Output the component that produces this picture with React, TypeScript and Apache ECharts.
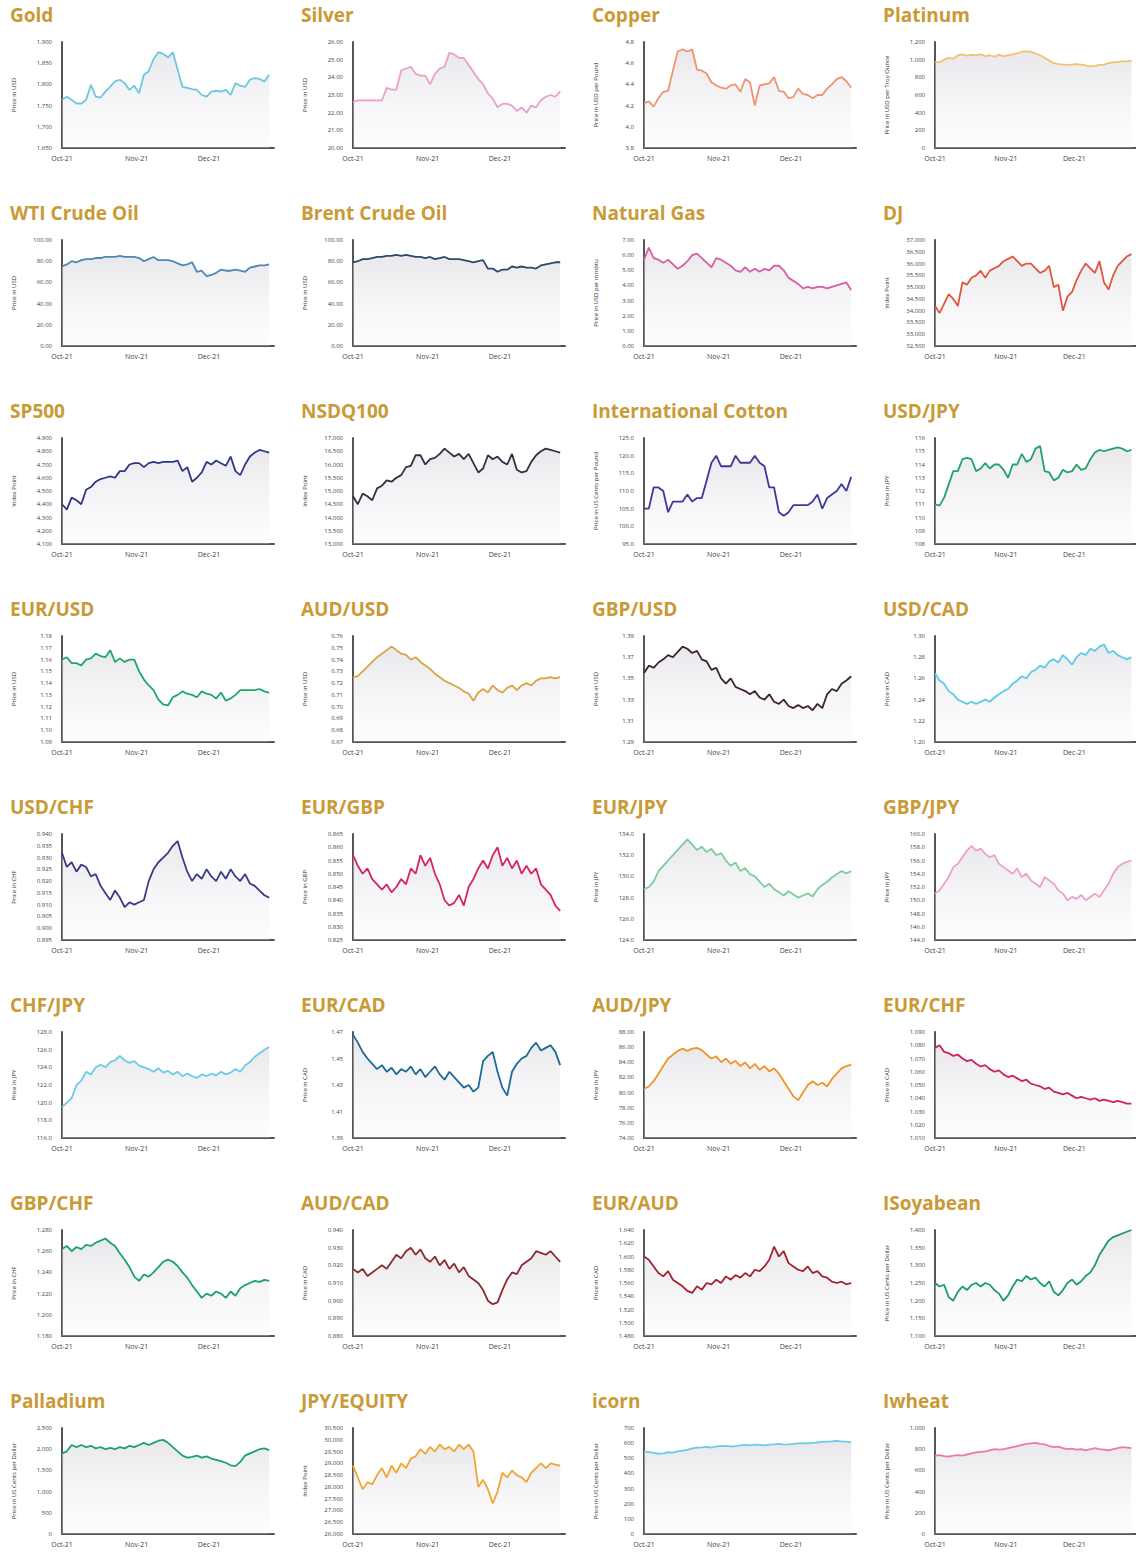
import React, { useEffect, useRef } from "react";
import * as echarts from "echarts";

// shared x positions: days since 1 Oct 2021 (every 2 days)
const days = [0, 2, 4, 6, 8, 10, 12, 14, 16, 18, 20, 22, 24, 26, 28, 30, 32, 34, 36, 38, 40, 42, 44, 46, 48, 50, 52, 54, 56, 58, 60, 62, 64, 66, 68, 70, 72, 74, 76, 78, 80, 82, 84, 86];
const monthTicks = [0, 31, 61];
const monthLabels = ["Oct-21", "Nov-21", "Dec-21"];

const titles = [
  "Gold", "Silver", "Copper", "Platinum",
  "WTI Crude Oil", "Brent Crude Oil", "Natural Gas", "DJ",
  "SP500", "NSDQ100", "International Cotton", "USD/JPY",
  "EUR/USD", "AUD/USD", "GBP/USD", "USD/CAD",
  "USD/CHF", "EUR/GBP", "EUR/JPY", "GBP/JPY",
  "CHF/JPY", "EUR/CAD", "AUD/JPY", "EUR/CHF",
  "GBP/CHF", "AUD/CAD", "EUR/AUD", "ISoyabean",
  "Palladium", "JPY/EQUITY", "icorn", "Iwheat",
];

const yNames = [
  "Price in USD", "Price in USD", "Price in USD per Pound", "Price in USD per Troy Ounce",
  "Price in USD", "Price in USD", "Price in USD per mmbtu", "Index Point",
  "Index Point", "Index Point", "Price in US Cents per Pound", "Price in JPY",
  "Price in USD", "Price in USD", "Price in USD", "Price in CAD",
  "Price in CHF", "Price in GBP", "Price in JPY", "Price in JPY",
  "Price in JPY", "Price in CAD", "Price in JPY", "Price in CAD",
  "Price in CHF", "Price in CAD", "Price in CAD", "Price in US Cents per Dollar",
  "Price in US Cents per Dollar", "Index Point", "Price in US Cents per Dollar", "Price in US Cents per Dollar",
];

const yMins = [1650, 20, 3.8, 0, 0, 0, 0, 32500, 4100, 13000, 95, 108, 1.09, 0.67, 1.29, 1.2, 0.895, 0.825, 124, 144, 116, 1.39, 74, 1.01, 1.18, 0.88, 1.48, 1100, 0, 26000, 0, 0];
const yMaxs = [1900, 26, 4.8, 1200, 100, 100, 7, 37000, 4900, 17000, 125, 116, 1.18, 0.76, 1.39, 1.3, 0.94, 0.865, 134, 160, 128, 1.47, 88, 1.09, 1.28, 0.94, 1.64, 1400, 2500, 30500, 700, 1000];
const ySteps = [50, 1, 0.2, 200, 20, 20, 1, 500, 100, 500, 5, 1, 0.01, 0.01, 0.02, 0.02, 0.005, 0.005, 2, 2, 2, 0.02, 2, 0.01, 0.02, 0.01, 0.02, 50, 500, 500, 100, 200];
const yDecimals = [0, 2, 1, 0, 2, 2, 2, 0, 0, 0, 1, 0, 2, 2, 2, 2, 3, 3, 1, 1, 1, 2, 2, 3, 3, 3, 3, 0, 0, 0, 0, 0];

const lineColors = [
  "#6cc8df", "#eba0cc", "#ef9470", "#f0c272",
  "#4f86b8", "#2f4868", "#d95ea2", "#e2553a",
  "#2e3886", "#3a2c40", "#3d3b96", "#22a26c",
  "#1ea868", "#d6a642", "#3c2232", "#5ccbe8",
  "#3b3c88", "#d72368", "#7ccd9c", "#f0a0cc",
  "#6ccbe6", "#1e6a94", "#f0942c", "#cc2262",
  "#1ca270", "#8c2a2e", "#a22232", "#1c9c62",
  "#1ca270", "#f2a632", "#6ccbe6", "#ea7aaa",
];

const gold = [1763, 1771, 1763, 1755, 1755, 1763, 1799, 1771, 1769, 1783, 1795, 1807, 1811, 1803, 1787, 1797, 1779, 1823, 1831, 1860, 1876, 1872, 1864, 1876, 1835, 1794, 1792, 1789, 1787, 1775, 1771, 1783, 1785, 1783, 1787, 1775, 1803, 1797, 1794, 1811, 1815, 1813, 1807, 1823];
const silver = [22.6, 22.7, 22.7, 22.7, 22.7, 22.7, 22.7, 23.4, 23.3, 23.3, 24.4, 24.5, 24.6, 24.2, 24.1, 24.1, 23.6, 24.2, 24.5, 24.6, 25.4, 25.3, 25.1, 25.1, 24.7, 24.3, 23.9, 23.6, 23.1, 22.8, 22.3, 22.5, 22.5, 22.4, 22.1, 22.3, 22.0, 22.4, 22.3, 22.7, 22.9, 23.0, 22.9, 23.2];
const copper = [4.22, 4.24, 4.19, 4.27, 4.33, 4.34, 4.53, 4.71, 4.73, 4.71, 4.73, 4.54, 4.53, 4.5, 4.42, 4.39, 4.37, 4.36, 4.39, 4.4, 4.33, 4.45, 4.42, 4.2, 4.39, 4.4, 4.41, 4.47, 4.34, 4.33, 4.27, 4.28, 4.36, 4.31, 4.3, 4.27, 4.3, 4.3, 4.36, 4.4, 4.45, 4.47, 4.43, 4.37];
const platinum = [975, 970, 1000, 1020, 1010, 1050, 1060, 1045, 1055, 1050, 1060, 1040, 1050, 1035, 1055, 1040, 1050, 1060, 1070, 1090, 1095, 1090, 1070, 1050, 1020, 990, 960, 950, 945, 940, 945, 950, 945, 935, 925, 930, 940, 945, 960, 970, 975, 980, 980, 985];
const wti = [75, 77, 80, 79, 81, 82, 82, 83, 83, 84, 84, 84, 85, 84, 84, 84, 83, 80, 82, 84, 81, 81, 81, 80, 78, 76, 77, 79, 70, 71, 66, 67, 69, 72, 71, 71, 72, 71, 70, 74, 75, 76, 76, 77];
const brent = [79, 80, 82, 82, 83, 84, 84, 85, 85, 86, 85, 86, 85, 84, 84, 83, 84, 82, 83, 84, 82, 82, 82, 81, 80, 79, 80, 81, 73, 73, 70, 72, 72, 75, 74, 75, 74, 74, 73, 76, 77, 78, 79, 79];
const natGas = [5.7, 6.5, 5.8, 5.7, 5.5, 5.7, 5.4, 5.1, 5.3, 5.6, 6.0, 6.1, 5.8, 5.5, 5.2, 5.8, 5.7, 5.5, 5.3, 5.0, 4.9, 5.2, 4.9, 5.1, 4.9, 5.1, 5.0, 5.3, 5.3, 5.0, 4.5, 4.3, 4.1, 3.8, 3.9, 3.8, 3.9, 3.9, 3.8, 3.9, 4.0, 4.1, 4.2, 3.7];
const dj = [34200, 33900, 34300, 34700, 34500, 34200, 35200, 35100, 35400, 35500, 35700, 35400, 35700, 35800, 35900, 36100, 36200, 36300, 36100, 35900, 36000, 36000, 35800, 35600, 35700, 35900, 35000, 35100, 34000, 34600, 34800, 35300, 35700, 36000, 35800, 35600, 36100, 35200, 34900, 35500, 35900, 36100, 36300, 36400];
const sp500 = [4400, 4360, 4450, 4430, 4400, 4510, 4530, 4570, 4590, 4600, 4610, 4600, 4650, 4650, 4700, 4710, 4710, 4680, 4710, 4720, 4710, 4720, 4720, 4720, 4730, 4650, 4680, 4570, 4600, 4640, 4720, 4700, 4730, 4710, 4690, 4760, 4650, 4620, 4700, 4760, 4790, 4810, 4800, 4790];
const nsdq100 = [14800, 14500, 14900, 14800, 14650, 15100, 15200, 15400, 15350, 15500, 15600, 15900, 15950, 16350, 16350, 16000, 16200, 16250, 16400, 16600, 16450, 16300, 16400, 16200, 16400, 16050, 15700, 15850, 16350, 16200, 16300, 16100, 16000, 16400, 15800, 15700, 15750, 16100, 16350, 16500, 16600, 16550, 16500, 16450];
const cotton = [105, 105, 111, 111, 110, 104, 107, 107, 107, 109, 107, 108, 108, 113, 118, 120, 117, 117, 117, 120, 118, 118, 118, 120, 118, 117, 111, 111, 104, 103, 104, 106, 106, 106, 106, 107, 109, 105, 108, 109, 110, 112, 110, 114];
const usdJpy = [111.0, 110.9, 111.5, 112.5, 113.5, 113.5, 114.4, 114.5, 114.4, 113.5, 113.7, 114.1, 113.7, 114.0, 114.0, 113.6, 113.0, 114.0, 114.0, 114.8, 114.2, 114.4, 115.2, 115.4, 113.5, 113.4, 112.8, 113.0, 113.6, 113.4, 113.5, 114.0, 113.6, 113.7, 114.4, 114.9, 115.1, 115.0, 115.1, 115.2, 115.3, 115.2, 115.0, 115.1];
const eurUsd = [1.16, 1.162, 1.157, 1.157, 1.155, 1.16, 1.161, 1.165, 1.163, 1.162, 1.168, 1.158, 1.161, 1.158, 1.16, 1.16, 1.15, 1.143, 1.138, 1.134, 1.126, 1.122, 1.121, 1.128, 1.13, 1.133, 1.131, 1.13, 1.128, 1.133, 1.131, 1.13, 1.127, 1.132, 1.125, 1.127, 1.13, 1.134, 1.134, 1.134, 1.134, 1.135, 1.133, 1.132];
const audUsd = [0.725, 0.726, 0.73, 0.734, 0.738, 0.742, 0.745, 0.748, 0.751, 0.748, 0.745, 0.744, 0.74, 0.742, 0.738, 0.735, 0.732, 0.728, 0.725, 0.722, 0.72, 0.718, 0.716, 0.713, 0.711, 0.705, 0.712, 0.715, 0.712, 0.718, 0.714, 0.712, 0.716, 0.718, 0.714, 0.718, 0.72, 0.718, 0.722, 0.724, 0.724, 0.725, 0.724, 0.725];
const gbpUsd = [1.355, 1.362, 1.36, 1.365, 1.368, 1.372, 1.37, 1.375, 1.38, 1.378, 1.374, 1.376, 1.368, 1.366, 1.358, 1.36, 1.35, 1.345, 1.35, 1.342, 1.34, 1.338, 1.335, 1.338, 1.332, 1.33, 1.335, 1.328, 1.326, 1.33, 1.324, 1.322, 1.325, 1.322, 1.324, 1.32, 1.326, 1.322, 1.335, 1.34, 1.338, 1.345, 1.348, 1.352];
const usdCad = [1.265, 1.258, 1.255, 1.248, 1.245, 1.24, 1.238, 1.236, 1.238, 1.236, 1.238, 1.24, 1.238, 1.242, 1.245, 1.248, 1.25, 1.255, 1.258, 1.262, 1.26, 1.266, 1.268, 1.272, 1.27, 1.276, 1.278, 1.275, 1.282, 1.278, 1.273, 1.28, 1.284, 1.282, 1.288, 1.286, 1.29, 1.292, 1.284, 1.286, 1.282, 1.28, 1.278, 1.28];
const usdChf = [0.932, 0.926, 0.928, 0.924, 0.927, 0.926, 0.922, 0.923, 0.918, 0.915, 0.912, 0.916, 0.913, 0.909, 0.911, 0.91, 0.911, 0.912, 0.92, 0.925, 0.928, 0.93, 0.932, 0.935, 0.937, 0.93, 0.924, 0.92, 0.923, 0.921, 0.925, 0.922, 0.92, 0.924, 0.921, 0.925, 0.922, 0.92, 0.923, 0.919, 0.918, 0.916, 0.914, 0.913];
const eurGbp = [0.857, 0.853, 0.85, 0.852, 0.848, 0.846, 0.844, 0.846, 0.843, 0.845, 0.848, 0.846, 0.852, 0.85, 0.857, 0.853, 0.856, 0.85, 0.846, 0.84, 0.838, 0.839, 0.842, 0.838, 0.845, 0.848, 0.852, 0.855, 0.852, 0.857, 0.86, 0.853, 0.856, 0.852, 0.855, 0.85, 0.853, 0.85, 0.852, 0.846, 0.844, 0.842, 0.838, 0.836];
const eurJpy = [128.8, 129.0, 129.5, 130.5, 131.0, 131.5, 132.0, 132.5, 133.0, 133.5, 133.0, 132.5, 132.8, 132.3, 132.6, 132.0, 132.2, 131.5, 131.0, 131.3, 130.5, 130.8, 130.2, 130.0, 129.5, 129.0, 129.3, 128.8, 128.5, 128.2, 128.6, 128.3, 128.0, 128.2, 128.4, 128.1, 128.8, 129.2, 129.5, 129.9, 130.2, 130.5, 130.3, 130.5];
const gbpJpy = [151.0, 151.5, 152.5, 153.5, 155.0, 155.5, 156.5, 157.5, 158.2, 157.5, 157.8, 157.0, 156.5, 156.8, 155.5, 155.0, 154.5, 154.0, 154.8, 153.5, 154.0, 153.0, 152.5, 152.0, 153.5, 153.0, 152.5, 151.5, 151.0, 150.0, 150.5, 150.2, 150.8, 150.0, 150.5, 151.0, 150.5, 151.5, 152.5, 154.0, 155.0, 155.5, 155.8, 156.0];
const chfJpy = [119.5, 120.0, 120.5, 122.0, 122.5, 123.5, 123.2, 124.0, 124.3, 124.0, 124.6, 124.8, 125.3, 124.8, 124.5, 124.7, 124.2, 124.0, 123.8, 123.5, 123.9, 123.4, 123.6, 123.2, 123.5, 123.0, 123.3, 123.0, 122.8, 123.2, 123.0, 123.3, 123.1, 123.5, 123.2, 123.4, 123.8, 123.5, 124.2, 124.6, 125.2, 125.6, 126.0, 126.3];
const eurCad = [1.468, 1.462, 1.455, 1.45, 1.446, 1.442, 1.445, 1.44, 1.443, 1.438, 1.442, 1.44, 1.444, 1.438, 1.442, 1.436, 1.44, 1.444, 1.438, 1.434, 1.44, 1.436, 1.432, 1.428, 1.43, 1.425, 1.428, 1.448, 1.452, 1.455, 1.44, 1.428, 1.422, 1.44, 1.446, 1.45, 1.452, 1.458, 1.462, 1.456, 1.458, 1.46, 1.455, 1.445];
const audJpy = [80.5, 80.8, 81.5, 82.5, 83.5, 84.5, 85.0, 85.5, 85.8, 85.5, 85.8, 85.9, 85.6, 85.0, 84.5, 84.8, 84.0, 84.5, 83.8, 84.2, 83.5, 84.0, 83.2, 83.8, 83.0, 83.5, 82.8, 83.2, 82.5, 81.5, 80.5, 79.5, 79.0, 80.0, 81.0, 81.5, 81.0, 81.3, 80.8, 81.8, 82.5, 83.2, 83.5, 83.7];
const eurChf = [1.078, 1.08, 1.075, 1.074, 1.072, 1.073, 1.07, 1.068, 1.069, 1.066, 1.064, 1.065, 1.062, 1.06, 1.061, 1.058, 1.056, 1.057, 1.055, 1.053, 1.054, 1.051, 1.05, 1.049, 1.047, 1.048, 1.045, 1.044, 1.043, 1.044, 1.042, 1.04, 1.041, 1.04, 1.039, 1.04, 1.038, 1.039, 1.038, 1.037, 1.038, 1.037, 1.036, 1.036];
const gbpChf = [1.262, 1.265, 1.26, 1.264, 1.262, 1.266, 1.265, 1.268, 1.27, 1.272, 1.268, 1.265, 1.258, 1.252, 1.245, 1.236, 1.232, 1.238, 1.236, 1.24, 1.245, 1.25, 1.252, 1.25, 1.246, 1.24, 1.235, 1.228, 1.222, 1.216, 1.22, 1.218, 1.222, 1.22, 1.216, 1.222, 1.218, 1.225, 1.228, 1.23, 1.232, 1.231, 1.233, 1.232];
const audCad = [0.918, 0.916, 0.918, 0.914, 0.916, 0.918, 0.92, 0.918, 0.922, 0.926, 0.924, 0.928, 0.93, 0.926, 0.929, 0.924, 0.922, 0.925, 0.92, 0.923, 0.918, 0.921, 0.916, 0.919, 0.914, 0.912, 0.91, 0.906, 0.9, 0.898, 0.899, 0.906, 0.912, 0.916, 0.915, 0.92, 0.922, 0.924, 0.928, 0.927, 0.926, 0.928, 0.925, 0.922];
const eurAud = [1.6, 1.595, 1.585, 1.575, 1.57, 1.578, 1.565, 1.56, 1.555, 1.548, 1.545, 1.555, 1.55, 1.56, 1.558, 1.565, 1.56, 1.57, 1.565, 1.572, 1.568, 1.575, 1.57, 1.58, 1.578, 1.585, 1.595, 1.615, 1.6, 1.608, 1.59, 1.585, 1.58, 1.578, 1.585, 1.575, 1.578, 1.57, 1.568, 1.562, 1.56, 1.562, 1.558, 1.56];
const soyabean = [1250, 1240, 1245, 1210, 1200, 1225, 1240, 1230, 1245, 1250, 1240, 1250, 1245, 1230, 1220, 1200, 1215, 1240, 1260, 1255, 1270, 1260, 1265, 1250, 1240, 1255, 1225, 1215, 1230, 1250, 1260, 1245, 1255, 1270, 1280, 1300, 1330, 1350, 1370, 1380, 1385, 1390, 1395, 1400];
const palladium = [1900, 1950, 2100, 2050, 2100, 2050, 2080, 2020, 2050, 2000, 2030, 2000, 2050, 2020, 2080, 2050, 2100, 2150, 2100, 2150, 2200, 2220, 2150, 2050, 1950, 1850, 1800, 1820, 1850, 1800, 1830, 1780, 1750, 1720, 1680, 1620, 1600, 1700, 1850, 1900, 1950, 2000, 2020, 1980];
const jpyEquity = [28900, 28400, 27900, 28200, 28100, 28500, 28800, 28400, 28900, 28600, 29000, 28800, 29200, 29300, 29600, 29400, 29700, 29500, 29800, 29600, 29700, 29500, 29800, 29600, 29800, 29500, 28000, 28300, 27900, 27300, 27800, 28600, 28400, 28700, 28500, 28400, 28200, 28600, 28800, 29000, 28800, 29000, 28950, 28900];
const corn = [545, 540, 535, 530, 532, 540, 538, 545, 550, 555, 565, 570, 572, 575, 570, 578, 580, 582, 578, 580, 585, 588, 585, 590, 588, 585, 590, 592, 595, 590, 592, 595, 598, 600, 598, 602, 605, 608, 610, 612, 615, 612, 610, 605];
const wheat = [740, 745, 735, 730, 740, 745, 740, 750, 760, 770, 775, 780, 790, 800, 795, 800, 810, 820, 830, 840, 850, 855, 860, 850, 845, 830, 820, 825, 810, 800, 805, 795, 800, 790, 800, 810, 800, 795, 790, 800, 810, 820, 815, 810];

const seriesValues = [
  gold, silver, copper, platinum,
  wti, brent, natGas, dj,
  sp500, nsdq100, cotton, usdJpy,
  eurUsd, audUsd, gbpUsd, usdCad,
  usdChf, eurGbp, eurJpy, gbpJpy,
  chfJpy, eurCad, audJpy, eurChf,
  gbpChf, audCad, eurAud, soyabean,
  palladium, jpyEquity, corn, wheat,
];

const W = 1136;
const H = 1557;
const COL_W = 291;
const ROW_H = 198;

function fmt(v: number, dec: number) {
  return v.toLocaleString("en-US", { minimumFractionDigits: dec, maximumFractionDigits: dec });
}

export default function App() {
  const ref = useRef<HTMLDivElement>(null);
  useEffect(() => {
    if (!ref.current) return;
    const chart = echarts.init(ref.current, null, { renderer: "svg" });
    const title: any[] = [];
    const grid: any[] = [];
    const xAxis: any[] = [];
    const yAxis: any[] = [];
    const series: any[] = [];
    titles.forEach((t, i) => {
      const col = i % 4;
      const row = Math.floor(i / 4);
      const x0 = col * COL_W;
      const y0 = row * ROW_H;
      title.push({
        text: t,
        left: x0 + 10,
        top: y0 + 5,
        padding: 0,
        textStyle: { fontFamily: "Open Sans", fontWeight: "bold", fontSize: 19, color: "#c99a36" },
      });
      grid.push({ left: x0 + 62, top: y0 + 42, width: 212, height: 106, containLabel: false });
      const dec = yDecimals[i];
      xAxis.push({
        type: "value",
        gridIndex: i,
        min: 0,
        max: 88,
        axisLine: { show: true, lineStyle: { color: "#555555", width: 2 } },
        axisTick: { show: false },
        splitLine: { show: false },
        axisLabel: {
          customValues: monthTicks,
          formatter: (v: number) => monthLabels[monthTicks.indexOf(v)] ?? "",
          fontFamily: "Open Sans",
          fontSize: 7,
          color: "#444",
          margin: 7,
        },
      });
      yAxis.push({
        type: "value",
        gridIndex: i,
        min: yMins[i],
        max: yMaxs[i],
        interval: ySteps[i],
        name: yNames[i],
        nameLocation: "middle",
        nameRotate: 90,
        nameGap: 45,
        nameTextStyle: { fontFamily: "Open Sans", fontSize: 6, color: "#333" },
        axisLine: { show: true, lineStyle: { color: "#555555", width: 2 } },
        axisTick: { show: false },
        splitLine: { show: false },
        axisLabel: {
          formatter: (v: number) => fmt(v, dec),
          fontFamily: "Open Sans",
          fontSize: 6,
          color: "#444",
          margin: 10,
        },
      });
      const vals = seriesValues[i];
      series.push({
        type: "line",
        xAxisIndex: i,
        yAxisIndex: i,
        data: days.map((d, k) => [d, vals[k]]),
        showSymbol: false,
        lineStyle: { color: lineColors[i], width: 1.8 },
        itemStyle: { color: lineColors[i] },
        areaStyle: {
          color: new echarts.graphic.LinearGradient(0, 0, 0, 1, [
            { offset: 0, color: "rgba(212,212,220,0.75)" },
            { offset: 1, color: "rgba(246,246,248,0.35)" },
          ]),
        },
      });
    });
    chart.setOption({
      animation: false,
      backgroundColor: "#ffffff",
      title,
      grid,
      xAxis,
      yAxis,
      series,
    });
    return () => chart.dispose();
  }, []);
  return (
    <div
      ref={ref}
      style={{ position: "absolute", left: 0, top: 0, width: W, height: H, background: "#fff" }}
    />
  );
}
